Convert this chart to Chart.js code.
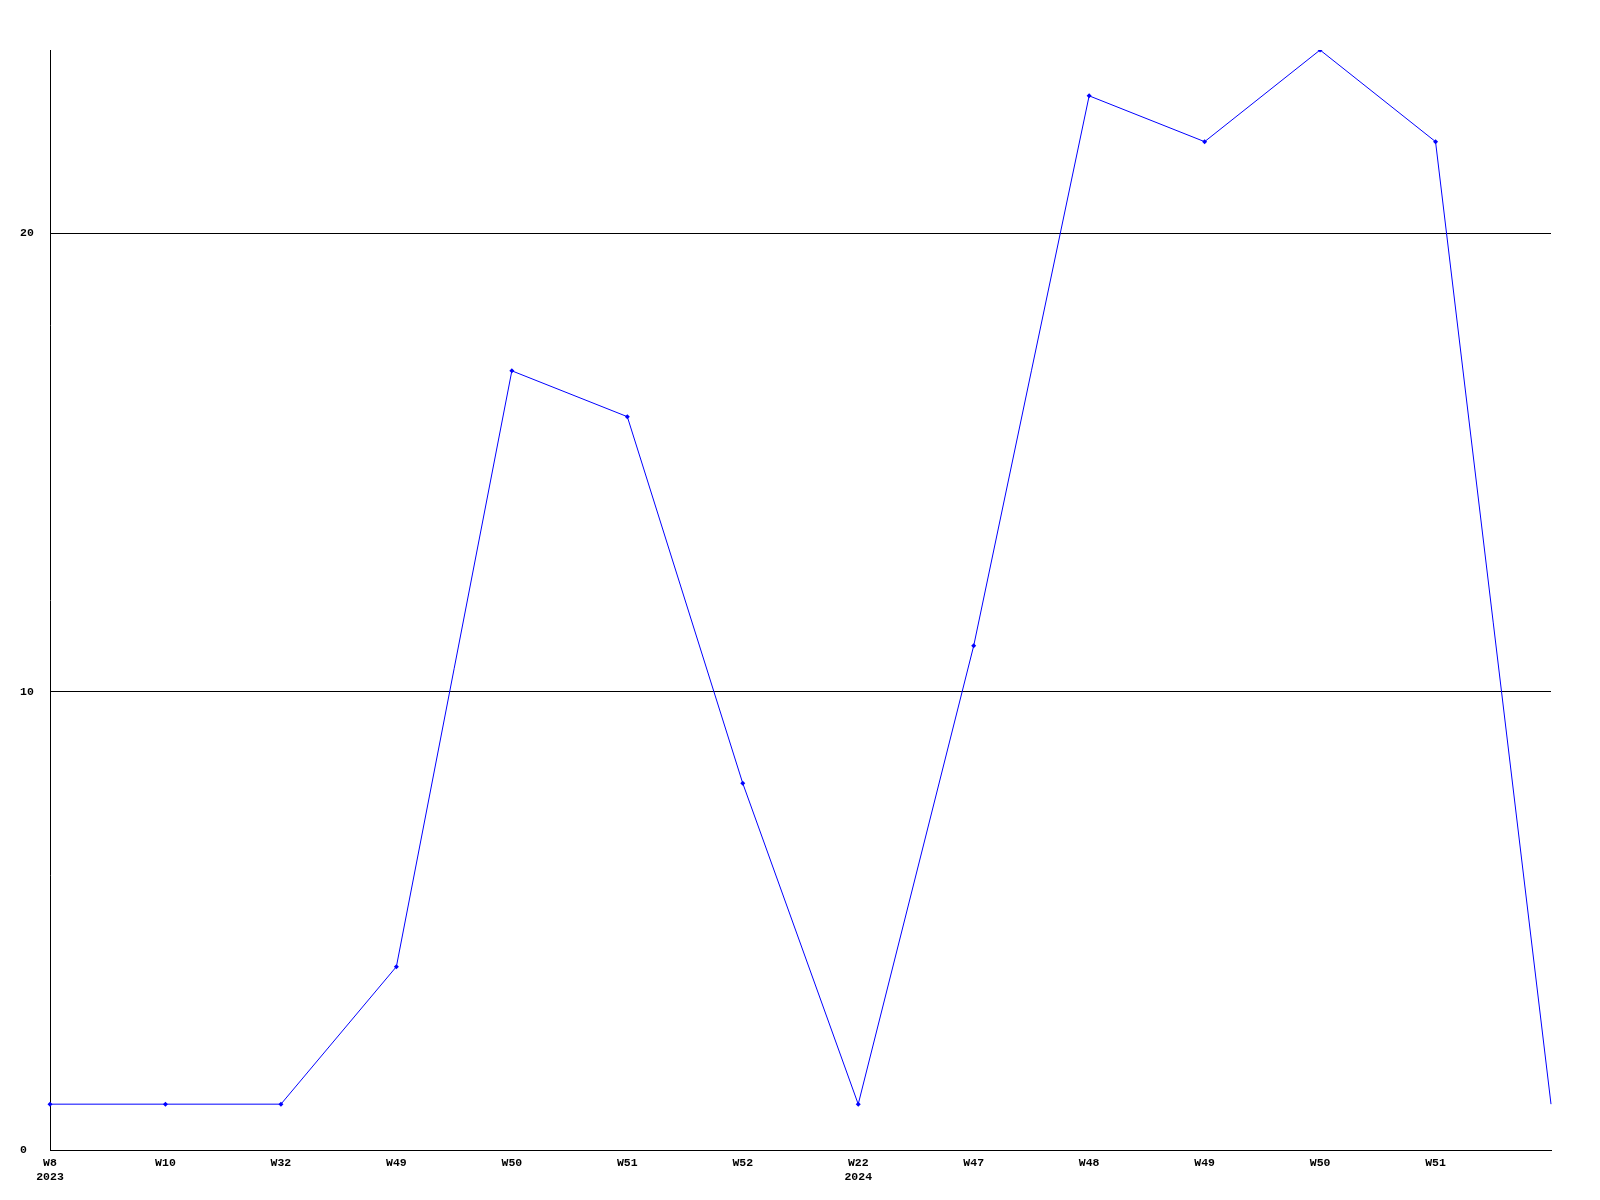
<!DOCTYPE html>
<html>
<head>
<meta charset="utf-8">
<script src="https://cdn.jsdelivr.net/npm/chart.js@4"></script>
<style>
  body { margin: 0; background: #fff; }
  canvas { display: block; }
</style>
</head>
<body>
<canvas id="myChart" width="1600" height="1200"></canvas>
<script>
'use strict';

let weekLabels = ['W8', 'W10', 'W32', 'W49', 'W50', 'W51', 'W52', 'W22', 'W47', 'W48', 'W49', 'W50', 'W51', ''];
let yearLabels = ['2023', '', '', '', '', '', '', '2024', '', '', '', '', '', ''];
let counts = [1, 1, 1, 4, 17, 16, 8, 1, 11, 23, 22, 24, 22, 1];
let yTicks = [0, 10, 20];
let yMax = 24;

let tickFont = { family: '"Liberation Mono", "DejaVu Sans Mono", monospace', size: 11.5, weight: 'bold' };

function chartRender() {
    let ctx = document.getElementById('myChart').getContext('2d');
    let myChart = new Chart(ctx, {
        type: 'line',
        data: {
            labels: weekLabels,
            datasets: [{
                data: counts,
                borderColor: '#0000ff',
                backgroundColor: '#0000ff',
                borderWidth: 1,
                tension: 0,
                pointStyle: 'rectRot',
                pointRadius: function (c) {
                    return c.dataIndex === counts.length - 1 ? 0 : 2.5;
                },
                pointBorderWidth: 0
            }]
        },
        options: {
            responsive: false,
            animation: false,
            layout: {
                padding: { left: 20, top: 50, right: 49, bottom: 0 }
            },
            plugins: {
                legend: { display: false },
                tooltip: { enabled: false }
            },
            scales: {
                x: {
                    type: 'category',
                    offset: false,
                    grid: { display: false, drawTicks: false },
                    border: { display: true, color: '#000', width: 1 },
                    ticks: {
                        color: '#000',
                        font: tickFont,
                        padding: 6,
                        maxRotation: 0,
                        autoSkip: false,
                        callback: function (value, index) {
                            if (yearLabels[index]) {
                                return [weekLabels[index], yearLabels[index]];
                            }
                            return weekLabels[index];
                        }
                    },
                    afterFit: function (scale) {
                        scale.height = 50;
                    }
                },
                y: {
                    min: 0,
                    max: yMax,
                    grid: { color: '#000', lineWidth: 1, drawTicks: false },
                    border: { display: true, color: '#000', width: 1 },
                    ticks: {
                        color: '#000',
                        font: tickFont,
                        crossAlign: 'far',
                        padding: 17
                    },
                    afterBuildTicks: function (scale) {
                        scale.ticks = yTicks.map(v => ({ value: v }));
                    },
                    afterFit: function (scale) {
                        scale.width = 30;
                    }
                }
            }
        }
    });
}
chartRender();
</script>
</body>
</html>
